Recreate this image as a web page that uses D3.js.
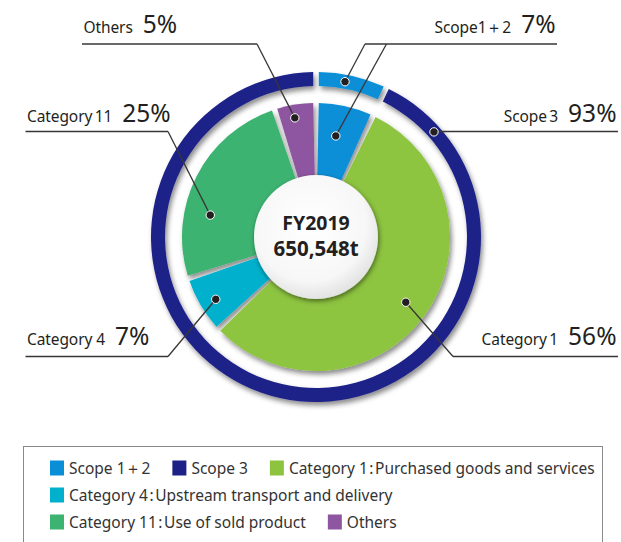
<!DOCTYPE html>
<html>
<head>
<meta charset="utf-8">
<script src="https://cdn.jsdelivr.net/npm/d3@7"></script>
<style>
  html, body { margin: 0; padding: 0; background: #fff; }
  svg { display: block; font-family: "Noto Sans", "Open Sans", sans-serif; }
</style>
</head>
<body>
<svg id="chart" width="621" height="542"></svg>
<script>
// Emission breakdown, FY2019
const fiscalYear = "FY2019";
const totalEmissions = "650,548t";

// inner pie: scope 1+2 and the scope 3 categories
const innerKeys = ["scope12", "cat1", "cat4", "cat11", "others"];
const innerNames = ["Scope1\uFF0B2", "Category\u20091", "Category 4", "Category\u200911", "Others"];
const innerValues = [7, 56, 7, 25, 5];

// outer ring: scope split
const ringKeys = ["scope12", "scope3"];
const ringNames = ["Scope1\uFF0B2", "Scope\u20093"];
const ringValues = [7, 93];

// legend rows
const legendRows = [
  [["scope12", "Scope 1\uFF0B2"], ["scope3", "Scope 3"], ["cat1", "Category 1\u200A:\u200APurchased goods and services"]],
  [["cat4", "Category 4\u200A:\u200AUpstream transport and delivery"]],
  [["cat11", "Category 11\u200A:\u200AUse of sold product"], ["others", "Others"]]
];

const colors = {
  scope12: "#0a8fd7",
  scope3: "#1d2087",
  cat1: "#8dc43f",
  cat4: "#00b0cc",
  cat11: "#3cb371",
  others: "#8e55a0"
};

// callout layout: which arc, where the dot sits inside it, and where the label line runs
const callouts = [
  { ring: "inner", i: 4, f: 0.44, r: 121, lineY: 44, x0: 82, x1: 257, side: "left", textY: 33 },
  { ring: "inner", i: 3, f: 0.33, r: 108, lineY: 131.5, x0: 25.5, x1: 168, side: "left", textY: 121.5 },
  { ring: "inner", i: 2, f: 0.45, r: 118, lineY: 356.5, x0: 25.5, x1: 168, side: "left", textY: 345 },
  { ring: "inner", i: 1, f: 0.5, r: 111, lineY: 356.5, x0: 453, x1: 618, side: "right", textY: 344.5 },
  { ring: "outer", i: 1, f: 0.069, r: 158, lineY: 131.5, x0: null, x1: 618, side: "right", textY: 121.5 },
  { ring: "outer", i: 0, f: 0.42, r: 158, lineY: 44, x0: 365, x1: 557, side: "right", textY: 33, extra: { ring: "inner", i: 0, f: 0.44, r: 103, x: 386.5 } }
];

const svg = d3.select("#chart");
const cx = 316, cy = 237;
const pieR = 134, ringInner = 151, ringOuter = 165, hubR = 62;

const defs = svg.append("defs");
const shadow = defs.append("filter").attr("id", "shadow")
  .attr("x", "-20%").attr("y", "-20%").attr("width", "140%").attr("height", "140%");
shadow.append("feDropShadow").attr("dx", 2).attr("dy", 3.5).attr("stdDeviation", 2.6)
  .attr("flood-color", "#000").attr("flood-opacity", 0.45);

const hubShadow = defs.append("filter").attr("id", "hubShadow")
  .attr("x", "-30%").attr("y", "-30%").attr("width", "160%").attr("height", "160%");
hubShadow.append("feDropShadow").attr("dx", 1).attr("dy", 2).attr("stdDeviation", 2.5)
  .attr("flood-color", "#000").attr("flood-opacity", 0.5);

const hubGrad = defs.append("radialGradient").attr("id", "hubGrad")
  .attr("cx", "45%").attr("cy", "40%").attr("r", "65%");
hubGrad.append("stop").attr("offset", "0%").attr("stop-color", "#ffffff");
hubGrad.append("stop").attr("offset", "70%").attr("stop-color", "#f7f7f7");
hubGrad.append("stop").attr("offset", "100%").attr("stop-color", "#dcdcdc");

const pie = d3.pie().sort(null).value(d => d);
const innerArcs = pie(innerValues);
const ringArcs = pie(ringValues);

const padR = 100, padA = 0.056;
const innerArc = d3.arc().innerRadius(0).outerRadius(pieR).padRadius(padR).padAngle(padA);
const ringArc = d3.arc().innerRadius(ringInner).outerRadius(ringOuter).padRadius(padR).padAngle(padA);

const g = svg.append("g").attr("transform", `translate(${cx},${cy})`);

g.append("g").attr("filter", "url(#shadow)")
  .selectAll("path").data(ringArcs).join("path")
  .attr("d", ringArc)
  .attr("fill", (d, i) => colors[ringKeys[i]]);

g.append("g").attr("filter", "url(#shadow)")
  .selectAll("path").data(innerArcs).join("path")
  .attr("d", innerArc)
  .attr("fill", (d, i) => colors[innerKeys[i]]);

// hub
g.append("circle").attr("r", hubR).attr("fill", "url(#hubGrad)").attr("filter", "url(#hubShadow)");
g.append("text").attr("text-anchor", "middle").attr("y", -7)
  .attr("font-size", 19.5).attr("font-weight", 700).attr("fill", "#231f20").text(fiscalYear);
g.append("text").attr("text-anchor", "middle").attr("y", 19)
  .attr("font-size", 20.5).attr("font-weight", 700).attr("fill", "#231f20").text(totalEmissions);

// callouts
function dotPos(spec) {
  const arcs = spec.ring === "inner" ? innerArcs : ringArcs;
  const a = arcs[spec.i];
  const ang = a.startAngle + spec.f * (a.endAngle - a.startAngle);
  return [cx + spec.r * Math.sin(ang), cy - spec.r * Math.cos(ang)];
}

const ink = "#231f20";
const lines = svg.append("g");
const labels = svg.append("g");

callouts.forEach(c => {
  const [dx, dy] = dotPos(c);
  const elbowX = c.side === "left" ? c.x1 : (c.x0 === null ? dx : c.x0);
  const startX = c.side === "left" ? c.x0 : elbowX;
  const endX = c.side === "left" ? elbowX : c.x1;
  lines.append("line").attr("x1", startX).attr("x2", endX).attr("y1", c.lineY).attr("y2", c.lineY)
    .attr("stroke", "#3a3636").attr("stroke-width", 1.3);
  const dots = [[dx, dy, elbowX]];
  if (c.extra) {
    const [ex, ey] = dotPos(c.extra);
    dots.push([ex, ey, c.extra.x]);
  }
  dots.forEach(([px, py, ex]) => {
    lines.append("line").attr("x1", ex).attr("y1", c.lineY).attr("x2", px).attr("y2", py)
      .attr("stroke", "#3a3636").attr("stroke-width", 1.3);
    lines.append("circle").attr("cx", px).attr("cy", py).attr("r", 4.2)
      .attr("fill", ink).attr("stroke", "#fff").attr("stroke-width", 1);
  });

  const name = c.ring === "inner" ? innerNames[c.i] : ringNames[c.i];
  const value = c.ring === "inner" ? innerValues[c.i] : ringValues[c.i];
  const t = labels.append("text")
    .attr("x", c.side === "left" ? c.x0 + 1.5 : c.x1 - 1.5)
    .attr("y", c.textY)
    .attr("text-anchor", c.side === "left" ? "start" : "end")
    .attr("fill", ink);
  t.append("tspan").attr("font-size", 15.5).attr("letter-spacing", -0.1).text(name);
  t.append("tspan").attr("font-size", 24.5).attr("dx", 10).text(value + "%");
});

// legend
const legend = svg.append("g");
legend.append("rect").attr("x", 23.5).attr("y", 446.5).attr("width", 579).attr("height", 110)
  .attr("fill", "#fff").attr("stroke", "#8a8a8a").attr("stroke-width", 1);

const rowY = [468, 495, 522];
legendRows.forEach((row, r) => {
  let x = 50;
  row.forEach(([key, text]) => {
    legend.append("rect").attr("x", x).attr("y", rowY[r] - 7.5).attr("width", 14).attr("height", 15)
      .attr("fill", colors[key]);
    const tx = legend.append("text").attr("x", x + 19).attr("y", rowY[r] + 5.5)
      .attr("font-size", 15.5).attr("fill", "#333").text(text);
    x += 19 + tx.node().getComputedTextLength() + 22;
  });
});
</script>
</body>
</html>
